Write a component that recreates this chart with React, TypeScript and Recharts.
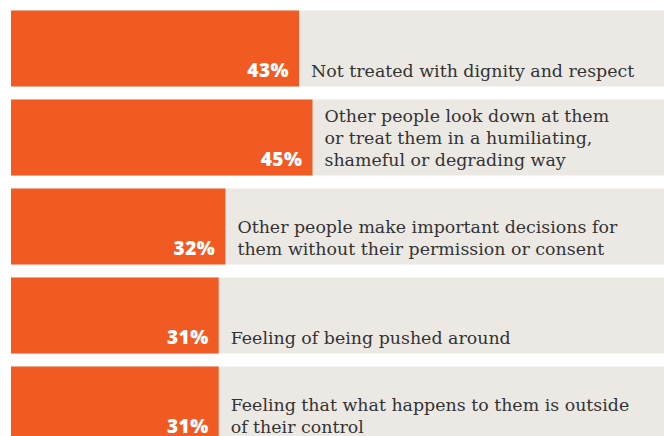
import { BarChart, Bar, XAxis, YAxis, LabelList } from 'recharts';

const categories = [
  'Not treated with dignity and respect',
  'Other people look down at them\nor treat them in a humiliating,\nshameful or degrading way',
  'Other people make important decisions for\nthem without their permission or consent',
  'Feeling of being pushed around',
  'Feeling that what happens to them is outside\nof their control',
];

const percentages = [43, 45, 32, 31, 31];

const data = categories.map((category, i) => ({ category, value: percentages[i] }));

const ORANGE = '#F15A22';
const GREY = '#ECE9E5';

const PercentLabel = (props: any) => {
  const { x, y, width, height, value } = props;
  return (
    <text
      x={x + width - 10}
      y={y + height - 10}
      textAnchor="end"
      fill="#fff"
      fontFamily="'Open Sans', sans-serif"
      fontWeight={800}
      fontSize={19}
      letterSpacing={0.5}
    >
      {value}%
    </text>
  );
};

const CategoryLabel = (props: any) => {
  const { x, y, width, height, value } = props;
  const lines = String(value).split('\n');
  const bottom = y + height - 10;
  return (
    <text
      x={x + width + 12}
      fill="#333"
      fontFamily="'DejaVu Serif', serif"
      fontSize={17.4}
    >
      {lines.map((line, i) => (
        <tspan key={i} x={x + width + 12} y={bottom - (lines.length - 1 - i) * 22}>
          {line}
        </tspan>
      ))}
    </text>
  );
};

export default function App() {
  return (
    <div
      style={{
        position: 'absolute',
        left: 0,
        top: 0,
        width: 664,
        height: 436,
        overflow: 'hidden',
        background: '#fff',
      }}
    >
      <BarChart
        width={681}
        height={460}
        data={data}
        layout="vertical"
        margin={{ top: 3.5, right: 0, bottom: 11.5, left: 11 }}
      >
        <XAxis type="number" domain={[0, 100]} hide />
        <YAxis type="category" dataKey="category" hide />
        <Bar
          dataKey="value"
          fill={ORANGE}
          barSize={76}
          background={{ fill: GREY }}
          isAnimationActive={false}
        >
          <LabelList dataKey="value" content={PercentLabel} />
          <LabelList dataKey="category" content={CategoryLabel} />
        </Bar>
      </BarChart>
    </div>
  );
}
